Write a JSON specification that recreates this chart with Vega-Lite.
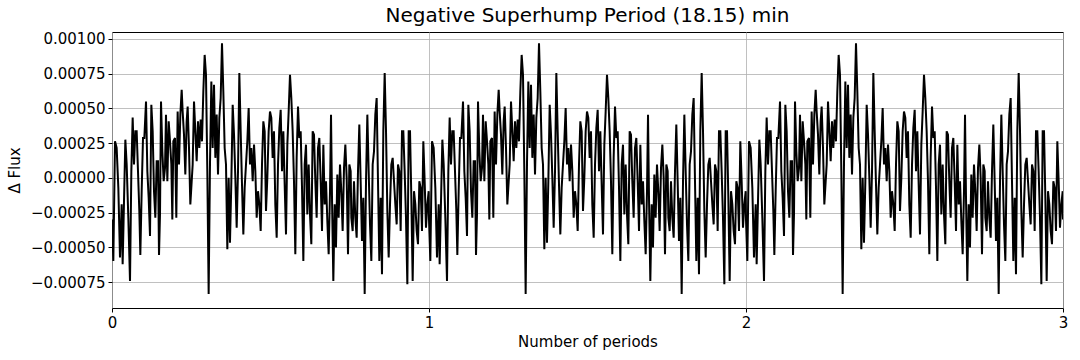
{
"$schema": "https://vega.github.io/schema/vega-lite/v6.json",
"width": 951, "height": 276,
"autosize": {"type": "none"},
"padding": {"left": 112, "top": 32, "right": 17, "bottom": 52},
"background": "white",
"title": {"text": "Negative Superhump Period (18.15) min", "fontSize": 20, "font": "DejaVu Sans", "fontWeight": "normal", "color": "black", "offset": 6, "anchor": "middle"},
"config": {"view": {"stroke": "black", "strokeWidth": 1}, "font": "DejaVu Sans"},
"data": {"values": [
{"x":0.0000,"y":-0.000300},{"x":0.0042,"y":-0.000598},{"x":0.0095,"y":0.000263},{"x":0.0147,"y":0.000215},{"x":0.0200,"y":-0.000072},{"x":0.0252,"y":-0.000574},{"x":0.0305,"y":-0.000191},{"x":0.0336,"y":-0.000622},{"x":0.0379,"y":-0.000167},{"x":0.0421,"y":0.000275},{"x":0.0463,"y":0.000096},{"x":0.0515,"y":-0.000287},{"x":0.0568,"y":-0.000742},{"x":0.0610,"y":0.000048},{"x":0.0652,"y":0.000435},{"x":0.0694,"y":0.000096},{"x":0.0736,"y":0.000335},{"x":0.0778,"y":0.000335},{"x":0.0820,"y":0.000048},{"x":0.0862,"y":-0.000239},{"x":0.0894,"y":-0.000555},{"x":0.0936,"y":-0.000096},{"x":0.0978,"y":0.000287},{"x":0.1020,"y":0.000287},{"x":0.1073,"y":0.000550},{"x":0.1115,"y":0.000048},{"x":0.1157,"y":-0.000144},{"x":0.1199,"y":-0.000419},{"x":0.1241,"y":0.000526},{"x":0.1283,"y":0.000335},{"x":0.1325,"y":-0.000096},{"x":0.1367,"y":-0.000287},{"x":0.1409,"y":0.000120},{"x":0.1451,"y":0.000120},{"x":0.1483,"y":-0.000555},{"x":0.1514,"y":-0.000263},{"x":0.1546,"y":0.000550},{"x":0.1588,"y":0.000191},{"x":0.1630,"y":-0.000024},{"x":0.1672,"y":0.000072},{"x":0.1703,"y":0.000455},{"x":0.1746,"y":-0.000024},{"x":0.1788,"y":0.000407},{"x":0.1830,"y":0.000263},{"x":0.1872,"y":0.000096},{"x":0.1903,"y":-0.000299},{"x":0.1935,"y":0.000263},{"x":0.1987,"y":0.000287},{"x":0.2029,"y":-0.000287},{"x":0.2071,"y":0.000478},{"x":0.2114,"y":0.000096},{"x":0.2156,"y":0.000455},{"x":0.2198,"y":0.000634},{"x":0.2229,"y":0.000478},{"x":0.2271,"y":0.000311},{"x":0.2313,"y":0.000024},{"x":0.2355,"y":0.000407},{"x":0.2387,"y":0.000514},{"x":0.2429,"y":0.000215},{"x":0.2471,"y":-0.000191},{"x":0.2545,"y":0.000096},{"x":0.2587,"y":0.000550},{"x":0.2629,"y":0.000335},{"x":0.2671,"y":0.000120},{"x":0.2713,"y":0.000407},{"x":0.2755,"y":0.000215},{"x":0.2797,"y":0.000419},{"x":0.2839,"y":0.000263},{"x":0.2881,"y":0.000622},{"x":0.2923,"y":0.000885},{"x":0.2965,"y":0.000742},{"x":0.3007,"y":0.000048},{"x":0.3049,"y":-0.000837},{"x":0.3091,"y":0.000096},{"x":0.3134,"y":0.000694},{"x":0.3176,"y":0.000215},{"x":0.3218,"y":0.000670},{"x":0.3260,"y":0.000144},{"x":0.3302,"y":0.000455},{"x":0.3344,"y":0.000024},{"x":0.3386,"y":0.000431},{"x":0.3428,"y":0.000574},{"x":0.3470,"y":0.000969},{"x":0.3512,"y":0.000622},{"x":0.3554,"y":0.000215},{"x":0.3596,"y":0.000096},{"x":0.3638,"y":-0.000514},{"x":0.3680,"y":0.000000},{"x":0.3722,"y":-0.000467},{"x":0.3765,"y":-0.000024},{"x":0.3807,"y":0.000526},{"x":0.3849,"y":0.000311},{"x":0.3891,"y":0.000000},{"x":0.3933,"y":-0.000359},{"x":0.3975,"y":0.000048},{"x":0.4017,"y":0.000754},{"x":0.4059,"y":0.000335},{"x":0.4101,"y":-0.000048},{"x":0.4143,"y":-0.000407},{"x":0.4185,"y":-0.000072},{"x":0.4227,"y":0.000096},{"x":0.4269,"y":0.000263},{"x":0.4311,"y":0.000502},{"x":0.4353,"y":0.000096},{"x":0.4395,"y":0.000215},{"x":0.4438,"y":-0.000024},{"x":0.4480,"y":0.000239},{"x":0.4522,"y":0.000048},{"x":0.4564,"y":-0.000287},{"x":0.4606,"y":-0.000096},{"x":0.4648,"y":-0.000191},{"x":0.4690,"y":-0.000383},{"x":0.4732,"y":0.000096},{"x":0.4774,"y":0.000407},{"x":0.4816,"y":0.000335},{"x":0.4858,"y":-0.000239},{"x":0.4900,"y":0.000000},{"x":0.4942,"y":0.000335},{"x":0.4984,"y":0.000478},{"x":0.5026,"y":0.000431},{"x":0.5068,"y":0.000144},{"x":0.5110,"y":0.000335},{"x":0.5152,"y":-0.000191},{"x":0.5195,"y":-0.000431},{"x":0.5237,"y":0.000096},{"x":0.5279,"y":0.000359},{"x":0.5321,"y":0.000490},{"x":0.5363,"y":0.000048},{"x":0.5405,"y":0.000335},{"x":0.5447,"y":-0.000048},{"x":0.5489,"y":-0.000407},{"x":0.5531,"y":0.000239},{"x":0.5573,"y":0.000478},{"x":0.5615,"y":0.000742},{"x":0.5657,"y":0.000574},{"x":0.5699,"y":0.000335},{"x":0.5741,"y":-0.000024},{"x":0.5783,"y":-0.000550},{"x":0.5825,"y":0.000144},{"x":0.5868,"y":0.000514},{"x":0.5910,"y":0.000287},{"x":0.5952,"y":0.000335},{"x":0.5994,"y":-0.000072},{"x":0.6036,"y":-0.000598},{"x":0.6078,"y":0.000096},{"x":0.6120,"y":0.000239},{"x":0.6162,"y":-0.000263},{"x":0.6204,"y":0.000096},{"x":0.6246,"y":-0.000263},{"x":0.6288,"y":-0.000478},{"x":0.6330,"y":0.000335},{"x":0.6372,"y":0.000311},{"x":0.6414,"y":-0.000024},{"x":0.6456,"y":-0.000287},{"x":0.6498,"y":0.000215},{"x":0.6540,"y":0.000287},{"x":0.6583,"y":-0.000024},{"x":0.6625,"y":-0.000383},{"x":0.6667,"y":0.000239},{"x":0.6709,"y":-0.000191},{"x":0.6751,"y":-0.000024},{"x":0.6793,"y":-0.000311},{"x":0.6835,"y":-0.000550},{"x":0.6877,"y":-0.000096},{"x":0.6909,"y":0.000455},{"x":0.6940,"y":-0.000144},{"x":0.6982,"y":-0.000742},{"x":0.7024,"y":-0.000191},{"x":0.7066,"y":-0.000502},{"x":0.7108,"y":0.000024},{"x":0.7150,"y":-0.000287},{"x":0.7192,"y":0.000096},{"x":0.7234,"y":-0.000096},{"x":0.7276,"y":-0.000383},{"x":0.7319,"y":0.000072},{"x":0.7361,"y":0.000239},{"x":0.7403,"y":0.000000},{"x":0.7445,"y":-0.000550},{"x":0.7487,"y":0.000096},{"x":0.7529,"y":0.000048},{"x":0.7550,"y":-0.000287},{"x":0.7592,"y":-0.000383},{"x":0.7634,"y":-0.000024},{"x":0.7676,"y":-0.000287},{"x":0.7718,"y":-0.000431},{"x":0.7760,"y":0.000048},{"x":0.7802,"y":0.000383},{"x":0.7844,"y":-0.000024},{"x":0.7886,"y":-0.000455},{"x":0.7928,"y":-0.000144},{"x":0.7971,"y":-0.000837},{"x":0.8013,"y":-0.000024},{"x":0.8055,"y":0.000455},{"x":0.8097,"y":0.000048},{"x":0.8139,"y":-0.000335},{"x":0.8181,"y":-0.000598},{"x":0.8223,"y":0.000096},{"x":0.8265,"y":0.000191},{"x":0.8307,"y":0.000455},{"x":0.8349,"y":0.000574},{"x":0.8391,"y":-0.000024},{"x":0.8433,"y":-0.000598},{"x":0.8475,"y":-0.000144},{"x":0.8517,"y":-0.000694},{"x":0.8559,"y":0.000335},{"x":0.8602,"y":0.000754},{"x":0.8644,"y":0.000335},{"x":0.8686,"y":-0.000239},{"x":0.8728,"y":-0.000574},{"x":0.8770,"y":-0.000191},{"x":0.8812,"y":0.000096},{"x":0.8854,"y":0.000144},{"x":0.8896,"y":-0.000024},{"x":0.8938,"y":-0.000191},{"x":0.8980,"y":-0.000335},{"x":0.9022,"y":0.000096},{"x":0.9064,"y":0.000048},{"x":0.9106,"y":-0.000383},{"x":0.9148,"y":0.000335},{"x":0.9190,"y":0.000335},{"x":0.9232,"y":0.000048},{"x":0.9274,"y":-0.000287},{"x":0.9317,"y":-0.000766},{"x":0.9359,"y":0.000335},{"x":0.9401,"y":0.000335},{"x":0.9443,"y":-0.000144},{"x":0.9485,"y":-0.000742},{"x":0.9527,"y":-0.000096},{"x":0.9569,"y":-0.000191},{"x":0.9611,"y":-0.000383},{"x":0.9653,"y":-0.000478},{"x":0.9695,"y":-0.000024},{"x":0.9737,"y":-0.000072},{"x":0.9779,"y":-0.000383},{"x":0.9821,"y":0.000263},{"x":0.9863,"y":-0.000024},{"x":0.9905,"y":-0.000359},{"x":0.9948,"y":-0.000191},{"x":0.9990,"y":-0.000096},
{"x":1.0000,"y":-0.000300},{"x":1.0042,"y":-0.000598},{"x":1.0095,"y":0.000263},{"x":1.0147,"y":0.000215},{"x":1.0200,"y":-0.000072},{"x":1.0252,"y":-0.000574},{"x":1.0305,"y":-0.000191},{"x":1.0336,"y":-0.000622},{"x":1.0379,"y":-0.000167},{"x":1.0421,"y":0.000275},{"x":1.0463,"y":0.000096},{"x":1.0515,"y":-0.000287},{"x":1.0568,"y":-0.000742},{"x":1.0610,"y":0.000048},{"x":1.0652,"y":0.000435},{"x":1.0694,"y":0.000096},{"x":1.0736,"y":0.000335},{"x":1.0778,"y":0.000335},{"x":1.0820,"y":0.000048},{"x":1.0862,"y":-0.000239},{"x":1.0894,"y":-0.000555},{"x":1.0936,"y":-0.000096},{"x":1.0978,"y":0.000287},{"x":1.1020,"y":0.000287},{"x":1.1073,"y":0.000550},{"x":1.1115,"y":0.000048},{"x":1.1157,"y":-0.000144},{"x":1.1199,"y":-0.000419},{"x":1.1241,"y":0.000526},{"x":1.1283,"y":0.000335},{"x":1.1325,"y":-0.000096},{"x":1.1367,"y":-0.000287},{"x":1.1409,"y":0.000120},{"x":1.1451,"y":0.000120},{"x":1.1483,"y":-0.000555},{"x":1.1514,"y":-0.000263},{"x":1.1546,"y":0.000550},{"x":1.1588,"y":0.000191},{"x":1.1630,"y":-0.000024},{"x":1.1672,"y":0.000072},{"x":1.1703,"y":0.000455},{"x":1.1746,"y":-0.000024},{"x":1.1788,"y":0.000407},{"x":1.1830,"y":0.000263},{"x":1.1872,"y":0.000096},{"x":1.1903,"y":-0.000299},{"x":1.1935,"y":0.000263},{"x":1.1987,"y":0.000287},{"x":1.2029,"y":-0.000287},{"x":1.2071,"y":0.000478},{"x":1.2114,"y":0.000096},{"x":1.2156,"y":0.000455},{"x":1.2198,"y":0.000634},{"x":1.2229,"y":0.000478},{"x":1.2271,"y":0.000311},{"x":1.2313,"y":0.000024},{"x":1.2355,"y":0.000407},{"x":1.2387,"y":0.000514},{"x":1.2429,"y":0.000215},{"x":1.2471,"y":-0.000191},{"x":1.2545,"y":0.000096},{"x":1.2587,"y":0.000550},{"x":1.2629,"y":0.000335},{"x":1.2671,"y":0.000120},{"x":1.2713,"y":0.000407},{"x":1.2755,"y":0.000215},{"x":1.2797,"y":0.000419},{"x":1.2839,"y":0.000263},{"x":1.2881,"y":0.000622},{"x":1.2923,"y":0.000885},{"x":1.2965,"y":0.000742},{"x":1.3007,"y":0.000048},{"x":1.3049,"y":-0.000837},{"x":1.3091,"y":0.000096},{"x":1.3134,"y":0.000694},{"x":1.3176,"y":0.000215},{"x":1.3218,"y":0.000670},{"x":1.3260,"y":0.000144},{"x":1.3302,"y":0.000455},{"x":1.3344,"y":0.000024},{"x":1.3386,"y":0.000431},{"x":1.3428,"y":0.000574},{"x":1.3470,"y":0.000969},{"x":1.3512,"y":0.000622},{"x":1.3554,"y":0.000215},{"x":1.3596,"y":0.000096},{"x":1.3638,"y":-0.000514},{"x":1.3680,"y":0.000000},{"x":1.3722,"y":-0.000467},{"x":1.3765,"y":-0.000024},{"x":1.3807,"y":0.000526},{"x":1.3849,"y":0.000311},{"x":1.3891,"y":0.000000},{"x":1.3933,"y":-0.000359},{"x":1.3975,"y":0.000048},{"x":1.4017,"y":0.000754},{"x":1.4059,"y":0.000335},{"x":1.4101,"y":-0.000048},{"x":1.4143,"y":-0.000407},{"x":1.4185,"y":-0.000072},{"x":1.4227,"y":0.000096},{"x":1.4269,"y":0.000263},{"x":1.4311,"y":0.000502},{"x":1.4353,"y":0.000096},{"x":1.4395,"y":0.000215},{"x":1.4438,"y":-0.000024},{"x":1.4480,"y":0.000239},{"x":1.4522,"y":0.000048},{"x":1.4564,"y":-0.000287},{"x":1.4606,"y":-0.000096},{"x":1.4648,"y":-0.000191},{"x":1.4690,"y":-0.000383},{"x":1.4732,"y":0.000096},{"x":1.4774,"y":0.000407},{"x":1.4816,"y":0.000335},{"x":1.4858,"y":-0.000239},{"x":1.4900,"y":0.000000},{"x":1.4942,"y":0.000335},{"x":1.4984,"y":0.000478},{"x":1.5026,"y":0.000431},{"x":1.5068,"y":0.000144},{"x":1.5110,"y":0.000335},{"x":1.5152,"y":-0.000191},{"x":1.5195,"y":-0.000431},{"x":1.5237,"y":0.000096},{"x":1.5279,"y":0.000359},{"x":1.5321,"y":0.000490},{"x":1.5363,"y":0.000048},{"x":1.5405,"y":0.000335},{"x":1.5447,"y":-0.000048},{"x":1.5489,"y":-0.000407},{"x":1.5531,"y":0.000239},{"x":1.5573,"y":0.000478},{"x":1.5615,"y":0.000742},{"x":1.5657,"y":0.000574},{"x":1.5699,"y":0.000335},{"x":1.5741,"y":-0.000024},{"x":1.5783,"y":-0.000550},{"x":1.5825,"y":0.000144},{"x":1.5868,"y":0.000514},{"x":1.5910,"y":0.000287},{"x":1.5952,"y":0.000335},{"x":1.5994,"y":-0.000072},{"x":1.6036,"y":-0.000598},{"x":1.6078,"y":0.000096},{"x":1.6120,"y":0.000239},{"x":1.6162,"y":-0.000263},{"x":1.6204,"y":0.000096},{"x":1.6246,"y":-0.000263},{"x":1.6288,"y":-0.000478},{"x":1.6330,"y":0.000335},{"x":1.6372,"y":0.000311},{"x":1.6414,"y":-0.000024},{"x":1.6456,"y":-0.000287},{"x":1.6498,"y":0.000215},{"x":1.6540,"y":0.000287},{"x":1.6583,"y":-0.000024},{"x":1.6625,"y":-0.000383},{"x":1.6667,"y":0.000239},{"x":1.6709,"y":-0.000191},{"x":1.6751,"y":-0.000024},{"x":1.6793,"y":-0.000311},{"x":1.6835,"y":-0.000550},{"x":1.6877,"y":-0.000096},{"x":1.6909,"y":0.000455},{"x":1.6940,"y":-0.000144},{"x":1.6982,"y":-0.000742},{"x":1.7024,"y":-0.000191},{"x":1.7066,"y":-0.000502},{"x":1.7108,"y":0.000024},{"x":1.7150,"y":-0.000287},{"x":1.7192,"y":0.000096},{"x":1.7234,"y":-0.000096},{"x":1.7276,"y":-0.000383},{"x":1.7319,"y":0.000072},{"x":1.7361,"y":0.000239},{"x":1.7403,"y":0.000000},{"x":1.7445,"y":-0.000550},{"x":1.7487,"y":0.000096},{"x":1.7529,"y":0.000048},{"x":1.7550,"y":-0.000287},{"x":1.7592,"y":-0.000383},{"x":1.7634,"y":-0.000024},{"x":1.7676,"y":-0.000287},{"x":1.7718,"y":-0.000431},{"x":1.7760,"y":0.000048},{"x":1.7802,"y":0.000383},{"x":1.7844,"y":-0.000024},{"x":1.7886,"y":-0.000455},{"x":1.7928,"y":-0.000144},{"x":1.7971,"y":-0.000837},{"x":1.8013,"y":-0.000024},{"x":1.8055,"y":0.000455},{"x":1.8097,"y":0.000048},{"x":1.8139,"y":-0.000335},{"x":1.8181,"y":-0.000598},{"x":1.8223,"y":0.000096},{"x":1.8265,"y":0.000191},{"x":1.8307,"y":0.000455},{"x":1.8349,"y":0.000574},{"x":1.8391,"y":-0.000024},{"x":1.8433,"y":-0.000598},{"x":1.8475,"y":-0.000144},{"x":1.8517,"y":-0.000694},{"x":1.8559,"y":0.000335},{"x":1.8602,"y":0.000754},{"x":1.8644,"y":0.000335},{"x":1.8686,"y":-0.000239},{"x":1.8728,"y":-0.000574},{"x":1.8770,"y":-0.000191},{"x":1.8812,"y":0.000096},{"x":1.8854,"y":0.000144},{"x":1.8896,"y":-0.000024},{"x":1.8938,"y":-0.000191},{"x":1.8980,"y":-0.000335},{"x":1.9022,"y":0.000096},{"x":1.9064,"y":0.000048},{"x":1.9106,"y":-0.000383},{"x":1.9148,"y":0.000335},{"x":1.9190,"y":0.000335},{"x":1.9232,"y":0.000048},{"x":1.9274,"y":-0.000287},{"x":1.9317,"y":-0.000766},{"x":1.9359,"y":0.000335},{"x":1.9401,"y":0.000335},{"x":1.9443,"y":-0.000144},{"x":1.9485,"y":-0.000742},{"x":1.9527,"y":-0.000096},{"x":1.9569,"y":-0.000191},{"x":1.9611,"y":-0.000383},{"x":1.9653,"y":-0.000478},{"x":1.9695,"y":-0.000024},{"x":1.9737,"y":-0.000072},{"x":1.9779,"y":-0.000383},{"x":1.9821,"y":0.000263},{"x":1.9863,"y":-0.000024},{"x":1.9905,"y":-0.000359},{"x":1.9948,"y":-0.000191},{"x":1.9990,"y":-0.000096},
{"x":2.0000,"y":-0.000300},{"x":2.0042,"y":-0.000598},{"x":2.0095,"y":0.000263},{"x":2.0147,"y":0.000215},{"x":2.0200,"y":-0.000072},{"x":2.0252,"y":-0.000574},{"x":2.0305,"y":-0.000191},{"x":2.0336,"y":-0.000622},{"x":2.0379,"y":-0.000167},{"x":2.0421,"y":0.000275},{"x":2.0463,"y":0.000096},{"x":2.0515,"y":-0.000287},{"x":2.0568,"y":-0.000742},{"x":2.0610,"y":0.000048},{"x":2.0652,"y":0.000435},{"x":2.0694,"y":0.000096},{"x":2.0736,"y":0.000335},{"x":2.0778,"y":0.000335},{"x":2.0820,"y":0.000048},{"x":2.0862,"y":-0.000239},{"x":2.0894,"y":-0.000555},{"x":2.0936,"y":-0.000096},{"x":2.0978,"y":0.000287},{"x":2.1020,"y":0.000287},{"x":2.1073,"y":0.000550},{"x":2.1115,"y":0.000048},{"x":2.1157,"y":-0.000144},{"x":2.1199,"y":-0.000419},{"x":2.1241,"y":0.000526},{"x":2.1283,"y":0.000335},{"x":2.1325,"y":-0.000096},{"x":2.1367,"y":-0.000287},{"x":2.1409,"y":0.000120},{"x":2.1451,"y":0.000120},{"x":2.1483,"y":-0.000555},{"x":2.1514,"y":-0.000263},{"x":2.1546,"y":0.000550},{"x":2.1588,"y":0.000191},{"x":2.1630,"y":-0.000024},{"x":2.1672,"y":0.000072},{"x":2.1703,"y":0.000455},{"x":2.1746,"y":-0.000024},{"x":2.1788,"y":0.000407},{"x":2.1830,"y":0.000263},{"x":2.1872,"y":0.000096},{"x":2.1903,"y":-0.000299},{"x":2.1935,"y":0.000263},{"x":2.1987,"y":0.000287},{"x":2.2029,"y":-0.000287},{"x":2.2071,"y":0.000478},{"x":2.2114,"y":0.000096},{"x":2.2156,"y":0.000455},{"x":2.2198,"y":0.000634},{"x":2.2229,"y":0.000478},{"x":2.2271,"y":0.000311},{"x":2.2313,"y":0.000024},{"x":2.2355,"y":0.000407},{"x":2.2387,"y":0.000514},{"x":2.2429,"y":0.000215},{"x":2.2471,"y":-0.000191},{"x":2.2545,"y":0.000096},{"x":2.2587,"y":0.000550},{"x":2.2629,"y":0.000335},{"x":2.2671,"y":0.000120},{"x":2.2713,"y":0.000407},{"x":2.2755,"y":0.000215},{"x":2.2797,"y":0.000419},{"x":2.2839,"y":0.000263},{"x":2.2881,"y":0.000622},{"x":2.2923,"y":0.000885},{"x":2.2965,"y":0.000742},{"x":2.3007,"y":0.000048},{"x":2.3049,"y":-0.000837},{"x":2.3091,"y":0.000096},{"x":2.3134,"y":0.000694},{"x":2.3176,"y":0.000215},{"x":2.3218,"y":0.000670},{"x":2.3260,"y":0.000144},{"x":2.3302,"y":0.000455},{"x":2.3344,"y":0.000024},{"x":2.3386,"y":0.000431},{"x":2.3428,"y":0.000574},{"x":2.3470,"y":0.000969},{"x":2.3512,"y":0.000622},{"x":2.3554,"y":0.000215},{"x":2.3596,"y":0.000096},{"x":2.3638,"y":-0.000514},{"x":2.3680,"y":0.000000},{"x":2.3722,"y":-0.000467},{"x":2.3765,"y":-0.000024},{"x":2.3807,"y":0.000526},{"x":2.3849,"y":0.000311},{"x":2.3891,"y":0.000000},{"x":2.3933,"y":-0.000359},{"x":2.3975,"y":0.000048},{"x":2.4017,"y":0.000754},{"x":2.4059,"y":0.000335},{"x":2.4101,"y":-0.000048},{"x":2.4143,"y":-0.000407},{"x":2.4185,"y":-0.000072},{"x":2.4227,"y":0.000096},{"x":2.4269,"y":0.000263},{"x":2.4311,"y":0.000502},{"x":2.4353,"y":0.000096},{"x":2.4395,"y":0.000215},{"x":2.4438,"y":-0.000024},{"x":2.4480,"y":0.000239},{"x":2.4522,"y":0.000048},{"x":2.4564,"y":-0.000287},{"x":2.4606,"y":-0.000096},{"x":2.4648,"y":-0.000191},{"x":2.4690,"y":-0.000383},{"x":2.4732,"y":0.000096},{"x":2.4774,"y":0.000407},{"x":2.4816,"y":0.000335},{"x":2.4858,"y":-0.000239},{"x":2.4900,"y":0.000000},{"x":2.4942,"y":0.000335},{"x":2.4984,"y":0.000478},{"x":2.5026,"y":0.000431},{"x":2.5068,"y":0.000144},{"x":2.5110,"y":0.000335},{"x":2.5152,"y":-0.000191},{"x":2.5195,"y":-0.000431},{"x":2.5237,"y":0.000096},{"x":2.5279,"y":0.000359},{"x":2.5321,"y":0.000490},{"x":2.5363,"y":0.000048},{"x":2.5405,"y":0.000335},{"x":2.5447,"y":-0.000048},{"x":2.5489,"y":-0.000407},{"x":2.5531,"y":0.000239},{"x":2.5573,"y":0.000478},{"x":2.5615,"y":0.000742},{"x":2.5657,"y":0.000574},{"x":2.5699,"y":0.000335},{"x":2.5741,"y":-0.000024},{"x":2.5783,"y":-0.000550},{"x":2.5825,"y":0.000144},{"x":2.5868,"y":0.000514},{"x":2.5910,"y":0.000287},{"x":2.5952,"y":0.000335},{"x":2.5994,"y":-0.000072},{"x":2.6036,"y":-0.000598},{"x":2.6078,"y":0.000096},{"x":2.6120,"y":0.000239},{"x":2.6162,"y":-0.000263},{"x":2.6204,"y":0.000096},{"x":2.6246,"y":-0.000263},{"x":2.6288,"y":-0.000478},{"x":2.6330,"y":0.000335},{"x":2.6372,"y":0.000311},{"x":2.6414,"y":-0.000024},{"x":2.6456,"y":-0.000287},{"x":2.6498,"y":0.000215},{"x":2.6540,"y":0.000287},{"x":2.6583,"y":-0.000024},{"x":2.6625,"y":-0.000383},{"x":2.6667,"y":0.000239},{"x":2.6709,"y":-0.000191},{"x":2.6751,"y":-0.000024},{"x":2.6793,"y":-0.000311},{"x":2.6835,"y":-0.000550},{"x":2.6877,"y":-0.000096},{"x":2.6909,"y":0.000455},{"x":2.6940,"y":-0.000144},{"x":2.6982,"y":-0.000742},{"x":2.7024,"y":-0.000191},{"x":2.7066,"y":-0.000502},{"x":2.7108,"y":0.000024},{"x":2.7150,"y":-0.000287},{"x":2.7192,"y":0.000096},{"x":2.7234,"y":-0.000096},{"x":2.7276,"y":-0.000383},{"x":2.7319,"y":0.000072},{"x":2.7361,"y":0.000239},{"x":2.7403,"y":0.000000},{"x":2.7445,"y":-0.000550},{"x":2.7487,"y":0.000096},{"x":2.7529,"y":0.000048},{"x":2.7550,"y":-0.000287},{"x":2.7592,"y":-0.000383},{"x":2.7634,"y":-0.000024},{"x":2.7676,"y":-0.000287},{"x":2.7718,"y":-0.000431},{"x":2.7760,"y":0.000048},{"x":2.7802,"y":0.000383},{"x":2.7844,"y":-0.000024},{"x":2.7886,"y":-0.000455},{"x":2.7928,"y":-0.000144},{"x":2.7971,"y":-0.000837},{"x":2.8013,"y":-0.000024},{"x":2.8055,"y":0.000455},{"x":2.8097,"y":0.000048},{"x":2.8139,"y":-0.000335},{"x":2.8181,"y":-0.000598},{"x":2.8223,"y":0.000096},{"x":2.8265,"y":0.000191},{"x":2.8307,"y":0.000455},{"x":2.8349,"y":0.000574},{"x":2.8391,"y":-0.000024},{"x":2.8433,"y":-0.000598},{"x":2.8475,"y":-0.000144},{"x":2.8517,"y":-0.000694},{"x":2.8559,"y":0.000335},{"x":2.8602,"y":0.000754},{"x":2.8644,"y":0.000335},{"x":2.8686,"y":-0.000239},{"x":2.8728,"y":-0.000574},{"x":2.8770,"y":-0.000191},{"x":2.8812,"y":0.000096},{"x":2.8854,"y":0.000144},{"x":2.8896,"y":-0.000024},{"x":2.8938,"y":-0.000191},{"x":2.8980,"y":-0.000335},{"x":2.9022,"y":0.000096},{"x":2.9064,"y":0.000048},{"x":2.9106,"y":-0.000383},{"x":2.9148,"y":0.000335},{"x":2.9190,"y":0.000335},{"x":2.9232,"y":0.000048},{"x":2.9274,"y":-0.000287},{"x":2.9317,"y":-0.000766},{"x":2.9359,"y":0.000335},{"x":2.9401,"y":0.000335},{"x":2.9443,"y":-0.000144},{"x":2.9485,"y":-0.000742},{"x":2.9527,"y":-0.000096},{"x":2.9569,"y":-0.000191},{"x":2.9611,"y":-0.000383},{"x":2.9653,"y":-0.000478},{"x":2.9695,"y":-0.000024},{"x":2.9737,"y":-0.000072},{"x":2.9779,"y":-0.000383},{"x":2.9821,"y":0.000263},{"x":2.9863,"y":-0.000024},{"x":2.9905,"y":-0.000359},{"x":2.9948,"y":-0.000191},{"x":2.9990,"y":-0.000096},{"x":3.0000,"y":-0.000300}
]},
"mark": {"type": "line", "color": "black", "strokeWidth": 2, "clip": true},
"encoding": {
  "x": {"field": "x", "type": "quantitative",
    "scale": {"domain": [0, 3], "nice": false, "zero": false},
    "axis": {"title": "Number of periods", "values": [0, 1, 2, 3], "format": "d", "grid": true, "gridColor": "#b0b0b0", "gridWidth": 0.8, "domain": false, "tickColor": "black", "tickSize": 4, "labelFont": "DejaVu Sans", "labelFontSize": 15, "labelColor": "black", "labelFlush": false, "labelPadding": 3, "titleFont": "DejaVu Sans", "titleFontSize": 15, "titleFontWeight": "normal", "titleColor": "black", "titlePadding": 4}},
  "y": {"field": "y", "type": "quantitative",
    "scale": {"domain": [-0.000937, 0.00105], "nice": false, "zero": false},
    "axis": {"title": "Δ Flux", "values": [-0.00075, -0.0005, -0.00025, 0, 0.00025, 0.0005, 0.00075, 0.001], "format": ".5f", "grid": true, "gridColor": "#b0b0b0", "gridWidth": 0.8, "domain": false, "tickColor": "black", "tickSize": 4, "labelFont": "DejaVu Sans", "labelFontSize": 15, "labelColor": "black", "labelPadding": 3, "titleFont": "DejaVu Sans", "titleFontSize": 15, "titleFontWeight": "normal", "titleColor": "black", "titlePadding": 8}}
}
}
